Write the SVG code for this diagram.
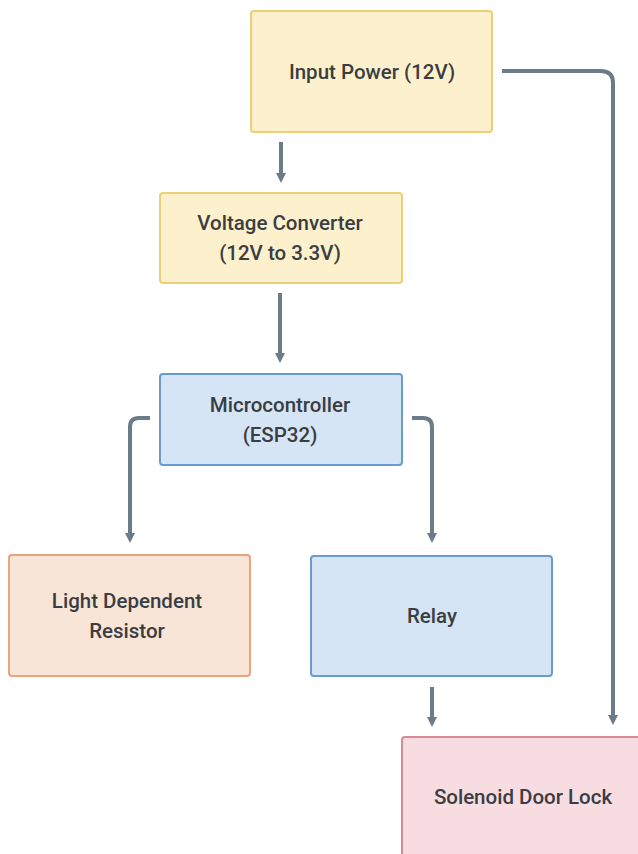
<svg xmlns="http://www.w3.org/2000/svg" width="638" height="854" viewBox="0 0 638 854">
<defs>
<marker id="ah" viewBox="0 0 12 10" refX="0" refY="5" markerWidth="12" markerHeight="10" markerUnits="userSpaceOnUse" orient="auto">
<path d="M0,0 L10,5 L0,10 z" fill="#6b7b8a"/>
</marker>
<style>
.box{stroke-width:2}
.yel{fill:#fcf1cc;stroke:#ecd078}
.blu{fill:#d5e5f5;stroke:#6b9ad0}
.org{fill:#f9e5d8;stroke:#e8a47a}
.pnk{fill:#f7dce1;stroke:#d88a98}
.t{font-family:"Roboto","Liberation Sans",sans-serif;font-size:20.5px;font-weight:500;fill:#3a3d42;text-anchor:middle}
.c{fill:none;stroke:#6b7b8a;stroke-width:4;marker-end:url(#ah)}
</style>
</defs>
<rect width="638" height="854" fill="#ffffff"/>
<g id="input-power">
<rect class="box yel" x="251" y="11" width="241" height="121" rx="3"/>
<text class="t" x="372" y="79">Input Power (12V)</text>
</g>
<g id="voltage-converter">
<rect class="box yel" x="160" y="193" width="242" height="90" rx="3"/>
<text class="t" x="280" y="230">Voltage Converter</text>
<text class="t" x="280" y="260">(12V to 3.3V)</text>
</g>
<g id="microcontroller">
<rect class="box blu" x="160" y="374" width="242" height="91" rx="3"/>
<text class="t" x="280" y="412">Microcontroller</text>
<text class="t" x="280" y="442">(ESP32)</text>
</g>
<g id="ldr">
<rect class="box org" x="9" y="555" width="241" height="121" rx="3"/>
<text class="t" x="127" y="608">Light Dependent</text>
<text class="t" x="127" y="638">Resistor</text>
</g>
<g id="relay">
<rect class="box blu" x="311" y="556" width="241" height="120" rx="3"/>
<text class="t" x="432" y="623">Relay</text>
</g>
<g id="solenoid">
<rect class="box pnk" x="402" y="737" width="250" height="130" rx="3"/>
<text class="t" x="523" y="804">Solenoid Door Lock</text>
</g>
<g id="connectors">
<path class="c" d="M281,142 V173"/>
<path class="c" d="M280,293 V353"/>
<path class="c" d="M150,418 H139 Q130,418 130,427 V533"/>
<path class="c" d="M412,418 H423 Q432,418 432,427 V533"/>
<path class="c" d="M432,687 V717"/>
<path class="c" d="M502,71 H601 Q613,71 613,83 V715"/>
</g>
</svg>
